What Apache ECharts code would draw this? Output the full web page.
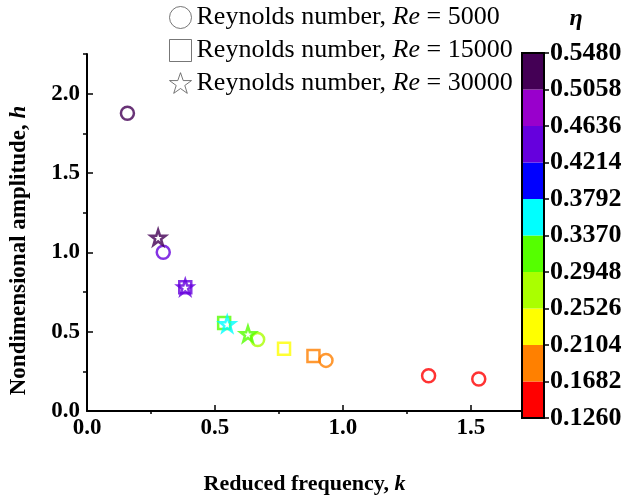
<!DOCTYPE html>
<html>
<head>
<meta charset="utf-8">
<script src="https://cdn.jsdelivr.net/npm/echarts@6/dist/echarts.min.js"></script>
<style>
  html, body { margin: 0; padding: 0; background: #fff; }
  #pic { width: 642px; height: 500px; }
</style>
</head>
<body>
<div id="pic"></div>
<script>
// Re = 5000 (circles)
var circleK = [0.158, 0.298, 0.667, 0.934, 1.335, 1.531];
var circleH = [1.877, 1.000, 0.450, 0.319, 0.222, 0.202];
var circleEta = [0.53, 0.44, 0.27, 0.19, 0.14, 0.14];
// Re = 15000 (squares)
var squareK = [0.384, 0.536, 0.770, 0.885];
var squareH = [0.780, 0.554, 0.393, 0.346];
var squareEta = [0.44, 0.31, 0.23, 0.19];
// Re = 30000 (stars)
var starK = [0.278, 0.384, 0.548, 0.629];
var starH = [1.094, 0.780, 0.548, 0.486];
var starEta = [0.53, 0.44, 0.35, 0.31];

// colour bar
var etaTicks = ['0.1260', '0.1682', '0.2104', '0.2526', '0.2948', '0.3370', '0.3792', '0.4214', '0.4636', '0.5058', '0.5480'];
var pieceColors = ['#ff0000', '#ff8000', '#ffff00', '#aaff00', '#55ff00', '#00ffff', '#0000ff', '#6600dd', '#9900cc', '#440055'];

var xMajor = [0, 0.5, 1.0, 1.5];
var xMinor = [0.25, 0.75, 1.25];
var yMajor = [0, 0.5, 1.0, 1.5, 2.0];
var yMinor = [0.25, 0.75, 1.25, 1.75, 2.25];

var serif = '"Liberation Serif", "Times New Roman", serif';
var starPath = 'path://M50,2 L61.8,36.2 L97.6,36.2 L68.6,57.4 L79.4,91.4 L50,70.6 L20.6,91.4 L31.4,57.4 L2.4,36.2 L38.2,36.2 Z';

function colorOf(eta) {
    var lo = parseFloat(etaTicks[0]);
    var step = parseFloat(etaTicks[1]) - lo;
    var i = Math.floor((eta - lo) / step);
    if (i < 0) i = 0;
    if (i > pieceColors.length - 1) i = pieceColors.length - 1;
    return pieceColors[i];
}

function points(ks, hs, etas) {
    var out = [];
    for (var i = 0; i < ks.length; i++) {
        out.push({ value: [ks[i], hs[i]], itemStyle: { borderColor: colorOf(etas[i]) } });
    }
    return out;
}

var names = ['Reynolds number, Re = 5000', 'Reynolds number, Re = 15000', 'Reynolds number, Re = 30000'];
var labelFont = { fontFamily: serif, fontSize: 23, fontWeight: 'bold', color: '#000' };
var barFont = { fontFamily: serif, fontSize: 26, fontWeight: 'bold', color: '#000' };

var myChart = echarts.init(document.getElementById('pic'));
var option = {
    animation: false,
    title: {
        text: 'η',
        left: 571,
        top: 2,
        textAlign: 'center',
        textStyle: { fontFamily: serif, fontSize: 24, fontWeight: 'bold', fontStyle: 'italic', color: '#000' }
    },
    legend: {
        orient: 'vertical',
        left: 167,
        top: 4,
        padding: 0,
        itemWidth: 22,
        itemHeight: 22,
        itemGap: 6,
        selectedMode: false,
        textStyle: {
            fontFamily: serif, fontSize: 26, lineHeight: 26, color: '#000',
            rich: { i: { fontFamily: serif, fontSize: 26, lineHeight: 26, fontStyle: 'italic', color: '#000' } }
        },
        formatter: function (name) { return name.replace('Re =', '{i|Re} ='); },
        data: [
            { name: names[0], icon: 'circle', itemStyle: { color: 'none', borderColor: '#555', borderWidth: 1 } },
            { name: names[1], icon: 'rect', itemStyle: { color: 'none', borderColor: '#555', borderWidth: 1 } },
            { name: names[2], icon: starPath, itemStyle: { color: 'none', borderColor: '#555', borderWidth: 1 } }
        ]
    },
    grid: [
        { left: 84, top: 54, right: 120, bottom: 82 },
        { left: 522, top: 53, width: 22, bottom: 82, show: true, z: 10, backgroundColor: 'transparent', borderColor: '#000', borderWidth: 2 }
    ],
    xAxis: [{
        gridIndex: 0, type: 'value', min: 0, max: 1.7,
        name: 'Reduced frequency, {i|k}',
        nameLocation: 'middle', nameGap: 62,
        nameTextStyle: {
            fontFamily: serif, fontSize: 22, fontWeight: 'bold', color: '#000',
            rich: { i: { fontFamily: serif, fontSize: 22, fontWeight: 'bold', fontStyle: 'italic', color: '#000' } }
        },
        splitLine: { show: false },
        axisLine: { show: true, onZero: false, lineStyle: { color: '#000', width: 2 } },
        axisTick: { show: true, inside: true, length: 6, lineStyle: { color: '#000', width: 1.5 }, customValues: xMajor },
        axisLabel: Object.assign({ margin: 6, customValues: xMajor, formatter: function (v) { return v.toFixed(1); } }, labelFont)
    }, {
        gridIndex: 0, type: 'value', min: 0, max: 1.7,
        splitLine: { show: false },
        axisLine: { show: false },
        axisTick: { show: true, inside: true, length: 3, lineStyle: { color: '#000', width: 1.5 }, customValues: xMinor },
        axisLabel: { show: false }
    }, {
        gridIndex: 1, type: 'value', min: 0, max: 1, show: false
    }],
    yAxis: [{
        gridIndex: 0, type: 'value', min: 0, max: 2.25,
        name: 'Nondimensional amplitude, {i|h}',
        nameLocation: 'middle', nameGap: 56,
        nameTextStyle: {
            fontFamily: serif, fontSize: 23, fontWeight: 'bold', color: '#000',
            padding: [0, 36, 0, 0],
            rich: { i: { fontFamily: serif, fontSize: 23, fontWeight: 'bold', fontStyle: 'italic', color: '#000' } }
        },
        splitLine: { show: false },
        axisLine: { show: true, onZero: false, lineStyle: { color: '#000', width: 2 } },
        axisTick: { show: true, inside: true, length: 6, lineStyle: { color: '#000', width: 1.5 }, customValues: yMajor },
        axisLabel: Object.assign({ margin: 7, customValues: yMajor, formatter: function (v) { return v.toFixed(1); } }, labelFont)
    }, {
        gridIndex: 0, type: 'value', min: 0, max: 2.25,
        splitLine: { show: false },
        axisLine: { show: false },
        axisTick: { show: true, inside: true, length: 4, lineStyle: { color: '#000', width: 1.5 }, customValues: yMinor },
        axisLabel: { show: false }
    }, {
        gridIndex: 1, type: 'category', show: false,
        data: pieceColors.map(function (c, i) { return etaTicks[i]; })
    }, {
        gridIndex: 1, type: 'value', position: 'right', min: 0, max: 10, interval: 1,
        splitLine: { show: false },
        axisLine: { show: false },
        axisTick: { show: true, inside: false, length: 5, lineStyle: { color: '#000', width: 1.5 } },
        axisLabel: Object.assign({ margin: 6, formatter: function (v) { return etaTicks[v]; } }, barFont)
    }],
    series: [{
        name: names[0], type: 'scatter', xAxisIndex: 0, yAxisIndex: 0,
        symbol: 'circle', symbolSize: 13,
        itemStyle: { color: 'none', borderWidth: 2.5 },
        data: points(circleK, circleH, circleEta)
    }, {
        name: names[1], type: 'scatter', xAxisIndex: 0, yAxisIndex: 0,
        symbol: 'rect', symbolSize: 12,
        itemStyle: { color: 'none', borderWidth: 2.5 },
        data: points(squareK, squareH, squareEta)
    }, {
        name: names[2], type: 'scatter', xAxisIndex: 0, yAxisIndex: 0,
        symbol: starPath, symbolSize: 15,
        itemStyle: { color: 'none', borderWidth: 2.5 },
        data: points(starK, starH, starEta)
    }, {
        name: 'colorbar', type: 'bar', xAxisIndex: 2, yAxisIndex: 2,
        barCategoryGap: '0%', silent: true,
        data: pieceColors.map(function (c) { return { value: 1, itemStyle: { color: c } }; })
    }]
};
myChart.setOption(option);
</script>
</body>
</html>
